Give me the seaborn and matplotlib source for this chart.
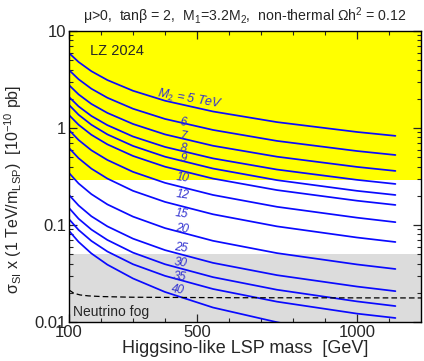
import numpy as np
import pandas as pd
import matplotlib
matplotlib.use("Agg")
import matplotlib.pyplot as plt
import seaborn as sns

mass = [100, 130, 170, 220, 300, 400, 550, 750, 1000, 1120]

# sigma_SI x (1 TeV / m_LSP) in units of 1e-10 pb, one list per M2 (TeV)
m2_values = [5, 6, 7, 8, 9, 10, 12, 15, 20, 25, 30, 35, 40]
sigma_m2_5 = [5.93, 4.79, 3.85, 3.12, 2.42, 1.91, 1.48, 1.15, 0.91, 0.83]
sigma_m2_6 = [3.96, 3.18, 2.54, 2.05, 1.58, 1.24, 0.955, 0.736, 0.579, 0.527]
sigma_m2_7 = [2.77, 2.22, 1.77, 1.43, 1.10, 0.859, 0.656, 0.506, 0.397, 0.361]
sigma_m2_8 = [2.09, 1.67, 1.33, 1.07, 0.817, 0.638, 0.486, 0.373, 0.292, 0.265]
sigma_m2_9 = [1.73, 1.37, 1.08, 0.859, 0.653, 0.506, 0.382, 0.290, 0.225, 0.204]
sigma_m2_10 = [1.36, 1.08, 0.851, 0.678, 0.515, 0.399, 0.301, 0.229, 0.178, 0.161]
sigma_m2_12 = [0.953, 0.752, 0.589, 0.468, 0.353, 0.272, 0.204, 0.154, 0.119, 0.107]
sigma_m2_15 = [0.622, 0.488, 0.381, 0.301, 0.225, 0.173, 0.129, 0.0968, 0.0743, 0.0668]
sigma_m2_20 = [0.344, 0.268, 0.208, 0.163, 0.122, 0.0929, 0.0687, 0.0513, 0.0392, 0.0352]
sigma_m2_25 = [0.204, 0.159, 0.123, 0.0968, 0.0723, 0.0551, 0.0407, 0.0304, 0.0232, 0.0208]
sigma_m2_30 = [0.150, 0.116, 0.0897, 0.0701, 0.0519, 0.0394, 0.0290, 0.0215, 0.0163, 0.0146]
sigma_m2_35 = [0.115, 0.0889, 0.0685, 0.0533, 0.0394, 0.0299, 0.0219, 0.0162, 0.0122, 0.0110]
sigma_m2_40 = [0.0871, 0.0670, 0.0509, 0.0390, 0.0281, 0.0204, 0.0141, 0.00995, 0.00698, 0.00603]

curves = [sigma_m2_5, sigma_m2_6, sigma_m2_7, sigma_m2_8, sigma_m2_9, sigma_m2_10,
          sigma_m2_12, sigma_m2_15, sigma_m2_20, sigma_m2_25, sigma_m2_30,
          sigma_m2_35, sigma_m2_40]

# LZ 2024 excluded region and neutrino fog
lz_limit = 0.29
fog_top = 0.05
fog_mass = [100, 115, 135, 160, 200, 300, 600, 1200]
fog_sigma = [0.0214, 0.0198, 0.0190, 0.0186, 0.0183, 0.0180, 0.0178, 0.0177]

# curve labels (text placement)
label_texts = ["$M_2$ = 5 TeV", "6", "7", "8", "9", "10", "12", "15", "20", "25", "30", "35", "40"]
label_mass = [478, 456, 456, 456, 456, 456, 456, 453, 453, 450, 450, 444, 441]
label_sigma = [1.99, 1.13, 0.81, 0.61, 0.48, 0.305, 0.204, 0.130, 0.091, 0.058, 0.0406, 0.0291, 0.0214]

rows = []
for m2, vals in zip(m2_values, curves):
    for m, v in zip(mass, vals):
        rows.append({"mass": m, "sigma": v, "M2": m2})
df = pd.DataFrame(rows)

sns.set_style("ticks")
plt.rcParams['font.family'] = ['Liberation Sans', 'DejaVu Sans']
plt.rcParams['mathtext.fontset'] = 'custom'
plt.rcParams['mathtext.rm'] = 'Liberation Sans'
plt.rcParams['mathtext.it'] = 'Liberation Sans:italic'
plt.rcParams['mathtext.bf'] = 'Liberation Sans:bold'

fig = plt.figure(figsize=(4.24, 3.61), dpi=100)
ax = fig.add_axes([69 / 424, 1 - 322 / 361, (421 - 69) / 424, (322 - 31) / 361])

ax.axhspan(lz_limit, 10, color="#ffff00", zorder=0, lw=0)
ax.axhspan(0.01, fog_top, color="#dcdcdc", zorder=0, lw=0)

sns.lineplot(data=df, x="mass", y="sigma", hue="M2", units="M2", estimator=None,
             palette={m: "#0a0aff" for m in m2_values}, legend=False, lw=1.25, ax=ax)
sns.lineplot(x=fog_mass, y=fog_sigma, color="black", lw=0.9, ls=(0, (4.5, 2.5)), ax=ax)

ax.set_yscale("log")
ax.set_xlim(100, 1200)
ax.set_ylim(0.01, 10)
ax.set_xticks([100, 500, 1000])
ax.set_xticklabels(["100", "500", "1000"])
ax.set_xticks(np.arange(200, 1200, 100), minor=True)
ax.set_yticks([0.01, 0.1, 1, 10])
ax.set_yticklabels(["0.01", "0.1", "1", "10"])
ax.tick_params(which="both", direction="in", top=True, right=True, labelsize=12, pad=2)
ax.tick_params(which="major", length=6, width=0.9)
ax.tick_params(which="minor", length=3, width=0.8)
for s in ax.spines.values():
    s.set_linewidth(1.0)
    s.set_color("black")

for i, (txt, m, v) in enumerate(zip(label_texts, label_mass, label_sigma)):
    ax.text(m, v, txt, color="#3030d0", fontsize=9 if i == 0 else 8.5, style="italic",
            rotation=-10 if i == 0 else -8, ha="center", va="center")

ax.text(0.06, 0.955, "LZ 2024", transform=ax.transAxes, fontsize=10.5, va="top")
ax.text(0.012, 0.012, "Neutrino fog", transform=ax.transAxes, fontsize=10, va="bottom")

ax.set_xlabel("Higgsino-like LSP mass  [GeV]", fontsize=13, labelpad=0)
ax.set_ylabel("σ$_{\\rm SI}$ x (1 TeV/m$_{\\rm LSP}$)  [10$^{-10}$ pb]", fontsize=11.5)
ax.yaxis.set_label_coords(-0.128, 0.455)
ax.set_title("μ>0,  tanβ = 2,  M$_1$=3.2M$_2$,  non-thermal Ωh$^2$ = 0.12",
             fontsize=10.2, pad=7)

fig.savefig("out.png", dpi=100)
